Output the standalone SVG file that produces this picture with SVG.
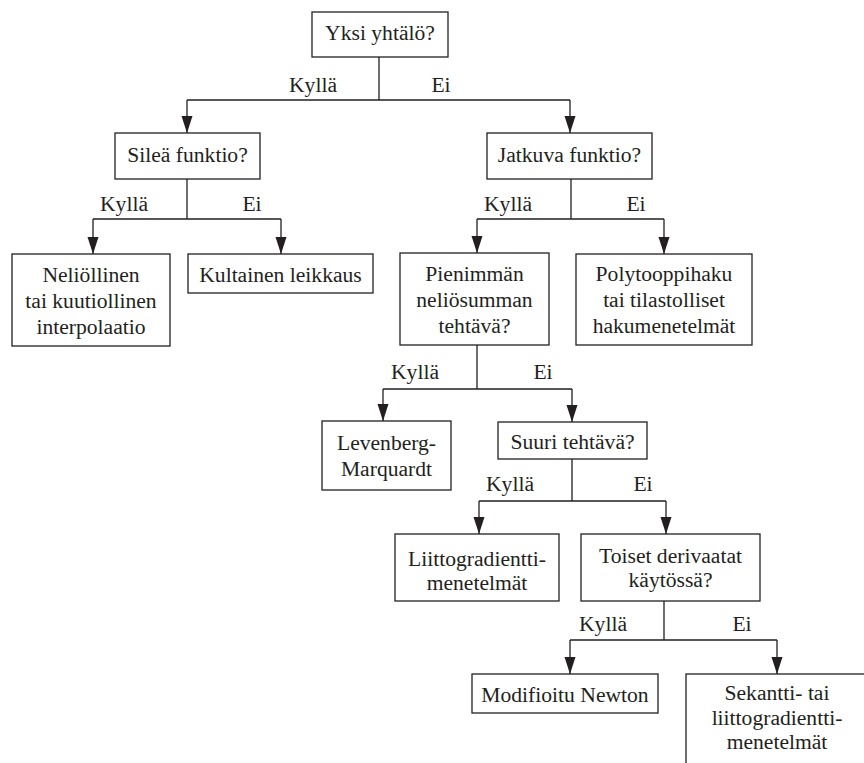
<svg xmlns="http://www.w3.org/2000/svg" width="864" height="763" viewBox="0 0 864 763">
<style>
.nb{fill:#fff;stroke:#231f20;stroke-width:1.3}
.cn{fill:none;stroke:#231f20;stroke-width:1.3}
</style>
<defs>
<marker id="dn" markerUnits="userSpaceOnUse" markerWidth="12" markerHeight="18" refX="5.5" refY="17" viewBox="0 0 11 18" orient="0">
<path d="M0,0 L11,0 L5.5,17 Z" fill="#231f20"/>
</marker>
</defs>
<rect width="864" height="763" fill="#fff"/>
<g id="connectors">
<path class="cn" d="M379,57 V100 M187,100 H570"/>
<path class="cn" d="M187,100 V133" marker-end="url(#dn)"/>
<path class="cn" d="M570,100 V133" marker-end="url(#dn)"/>
<path class="cn" d="M187,179 V219 M93,219 H281"/>
<path class="cn" d="M93,219 V254" marker-end="url(#dn)"/>
<path class="cn" d="M281,219 V254" marker-end="url(#dn)"/>
<path class="cn" d="M571,179 V219 M477,219 H664"/>
<path class="cn" d="M477,219 V253" marker-end="url(#dn)"/>
<path class="cn" d="M664,219 V254" marker-end="url(#dn)"/>
<path class="cn" d="M477,345 V389 M383,389 H572"/>
<path class="cn" d="M383,389 V421" marker-end="url(#dn)"/>
<path class="cn" d="M572,389 V422" marker-end="url(#dn)"/>
<path class="cn" d="M572,459 V501 M479,501 H666"/>
<path class="cn" d="M479,501 V534" marker-end="url(#dn)"/>
<path class="cn" d="M666,501 V534" marker-end="url(#dn)"/>
<path class="cn" d="M664,601 V640 M570,640 H777"/>
<path class="cn" d="M570,640 V674" marker-end="url(#dn)"/>
<path class="cn" d="M777,640 V674" marker-end="url(#dn)"/>
<g font-family="Liberation Serif" font-size="21.6" fill="#231f20" text-anchor="middle">
<text x="313" y="92">Kyllä</text>
<text x="441" y="92">Ei</text>
<text x="124" y="211">Kyllä</text>
<text x="252" y="211">Ei</text>
<text x="508" y="211">Kyllä</text>
<text x="636" y="211">Ei</text>
<text x="415" y="379">Kyllä</text>
<text x="543" y="379">Ei</text>
<text x="510" y="491">Kyllä</text>
<text x="643" y="491">Ei</text>
<text x="603" y="631">Kyllä</text>
<text x="742" y="631">Ei</text>
</g>
</g>
<g font-family="Liberation Serif" font-size="21.6" fill="#231f20" text-anchor="middle">
<g id="n-yksi">
<rect class="nb" x="312" y="12" width="136" height="45"/>
<text x="380" y="40">Yksi yhtälö?</text>
</g>
<g id="n-silea">
<rect class="nb" x="115" y="133" width="145" height="46"/>
<text x="187.5" y="162">Sileä funktio?</text>
</g>
<g id="n-jatkuva">
<rect class="nb" x="487" y="133" width="165" height="46"/>
<text x="569.5" y="162">Jatkuva funktio?</text>
</g>
<g id="n-nelio">
<rect class="nb" x="12" y="254" width="158" height="92"/>
<text x="91" y="282">Neliöllinen</text>
<text x="91" y="308">tai kuutiollinen</text>
<text x="91" y="334">interpolaatio</text>
</g>
<g id="n-kultainen">
<rect class="nb" x="188" y="254" width="185" height="39"/>
<text x="280.5" y="282">Kultainen leikkaus</text>
</g>
<g id="n-pienimman">
<rect class="nb" x="400" y="253" width="149" height="92"/>
<text x="474.5" y="281">Pienimmän</text>
<text x="474.5" y="307">neliösumman</text>
<text x="474.5" y="333">tehtävä?</text>
</g>
<g id="n-polytooppi">
<rect class="nb" x="576" y="254" width="176" height="91"/>
<text x="664" y="281">Polytooppihaku</text>
<text x="664" y="307">tai tilastolliset</text>
<text x="664" y="333">hakumenetelmät</text>
</g>
<g id="n-levenberg">
<rect class="nb" x="322" y="421" width="129" height="69"/>
<text x="386.5" y="450">Levenberg-</text>
<text x="386.5" y="476">Marquardt</text>
</g>
<g id="n-suuri">
<rect class="nb" x="498" y="422" width="149" height="37"/>
<text x="572.5" y="449">Suuri tehtävä?</text>
</g>
<g id="n-liitto">
<rect class="nb" x="395" y="534" width="164" height="67"/>
<text x="477" y="566">Liittogradientti-</text>
<text x="477" y="590">menetelmät</text>
</g>
<g id="n-toiset">
<rect class="nb" x="581" y="534" width="179" height="67"/>
<text x="670.5" y="563">Toiset derivaatat</text>
<text x="670.5" y="587">käytössä?</text>
</g>
<g id="n-modifioitu">
<rect class="nb" x="472" y="674" width="186" height="39"/>
<text x="565" y="702">Modifioitu Newton</text>
</g>
<g id="n-sekantti">
<rect class="nb" x="686" y="674" width="200" height="110"/>
<text x="777" y="700">Sekantti- tai</text>
<text x="777" y="725">liittogradientti-</text>
<text x="777" y="749">menetelmät</text>
</g>
</g>
</svg>
